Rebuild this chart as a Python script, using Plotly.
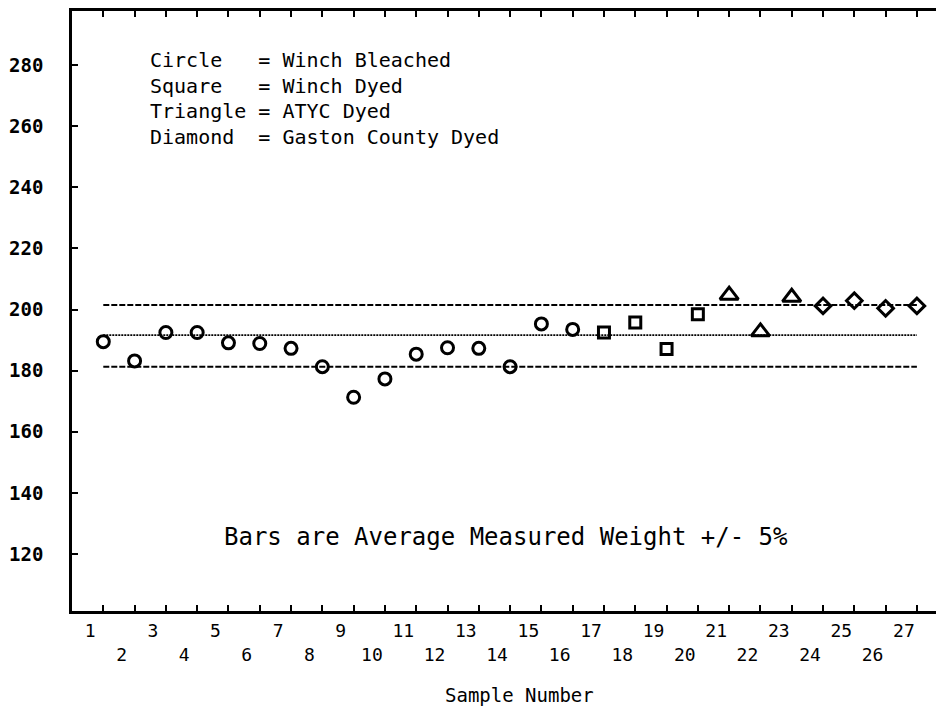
import plotly.graph_objects as go

# ---- data ----
samples = list(range(1, 28))
weights = [189.5, 183.2, 192.5, 192.5, 189.1, 188.9, 187.3, 181.3, 171.3, 177.3,
           185.4, 187.5, 187.3, 181.3, 195.3, 193.5, 192.5, 195.8, 187.1, 198.5,
           204.7, 192.7, 204.0, 201.2, 202.9, 200.4, 201.2]
groups = (["Winch Bleached"] * 16 + ["Winch Dyed"] * 4 +
          ["ATYC Dyed"] * 3 + ["Gaston County Dyed"] * 4)
group_names = ["Winch Bleached", "Winch Dyed", "ATYC Dyed", "Gaston County Dyed"]
group_symbols = ["circle-open", "square-open", "triangle-up-open", "diamond-open"]
group_sizes = [12, 11, 16, 12]
legend_lines = ["Circle   = Winch Bleached",
                "Square   = Winch Dyed",
                "Triangle = ATYC Dyed",
                "Diamond  = Gaston County Dyed"]
bar_lower, bar_mean, bar_upper = 181.3, 191.6, 201.5
y_ticks = [120, 140, 160, 180, 200, 220, 240, 260, 280]
x_ticktext = [str(n) if n % 2 == 1 else "<br>" + str(n) for n in samples]

FONT = "DejaVu Sans Mono"

fig = go.Figure()

# reference bars (+/- 5%)
for val, dash, w in [(bar_upper, "6px,2px", 2), (bar_mean, "2px,1px", 1.8), (bar_lower, "6px,2px", 2)]:
    fig.add_trace(go.Scatter(x=[samples[0], samples[-1]], y=[val, val], mode="lines",
                             line=dict(color="black", width=w, dash=dash),
                             showlegend=False, hoverinfo="skip"))

for name, sym, sz in zip(group_names, group_symbols, group_sizes):
    xs = [s for s, g in zip(samples, groups) if g == name]
    ys = [v for v, g in zip(weights, groups) if g == name]
    fig.add_trace(go.Scatter(x=xs, y=ys, mode="markers", name=name,
                             marker=dict(symbol=sym, size=sz, color="black",
                                         line=dict(color="black", width=3)),
                             showlegend=False))

# legend text
legend_y = [0.918, 0.875, 0.833, 0.79]
for txt, yy in zip(legend_lines, legend_y):
    fig.add_annotation(text=txt.replace(" ", "&nbsp;"), xref="paper", yref="paper",
                       x=0.087, y=yy, xanchor="left", yanchor="middle", showarrow=False,
                       font=dict(family=FONT, size=20, color="black"))

fig.add_annotation(text="Bars are Average Measured Weight +/- 5%", xref="paper", yref="paper",
                   x=0.497, y=0.123, xanchor="center", yanchor="middle", showarrow=False,
                   font=dict(family=FONT, size=24, color="black"))

fig.add_annotation(text="Sample Number", xref="paper", yref="paper",
                   x=0.512, y=-0.14, xanchor="center", yanchor="middle", showarrow=False,
                   font=dict(family=FONT, size=19, color="black"))

fig.update_xaxes(range=[0, 27.93], tickmode="array", tickvals=samples, ticktext=x_ticktext,
                 ticks="inside", ticklen=6, tickwidth=2, tickcolor="black",
                 showline=True, linewidth=2.5, linecolor="black", mirror="ticks",
                 showgrid=False, zeroline=False, ticklabelshift=-13, ticklabelstandoff=2,
                 automargin=False,
                 tickfont=dict(family=FONT, size=18, color="black"))
fig.update_yaxes(range=[101.35, 297.7], tickmode="array", tickvals=y_ticks,
                 ticktext=[str(v) for v in y_ticks],
                 ticks="inside", ticklen=6, tickwidth=2, tickcolor="black",
                 showline=True, linewidth=2.5, linecolor="black", mirror="ticks",
                 showgrid=False, zeroline=False, ticklabelstandoff=22, automargin=False,
                 tickfont=dict(family=FONT, size=19, color="black", weight="bold"))

fig.update_layout(width=944, height=708, margin=dict(l=64, r=6, t=3, b=105),
                  paper_bgcolor="white", plot_bgcolor="white", showlegend=False)

fig.write_html("out.html")
